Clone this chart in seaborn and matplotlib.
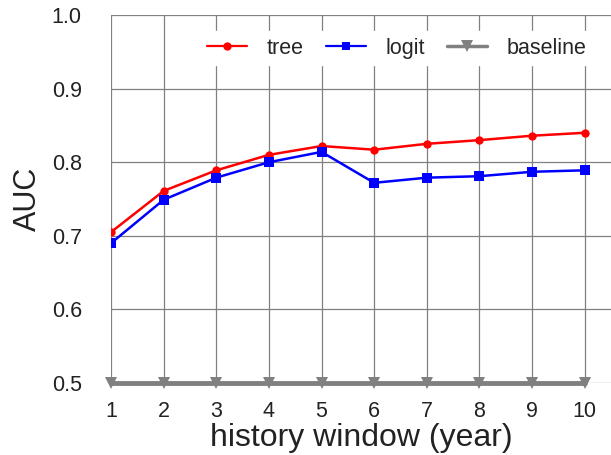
import numpy as np
import pandas as pd
import matplotlib
matplotlib.use("Agg")
import matplotlib.pyplot as plt
import seaborn as sns

# history window (years) and AUC values
years = [1, 2, 3, 4, 5, 6, 7, 8, 9, 10]
tree_auc = [0.705, 0.761, 0.789, 0.810, 0.822, 0.817, 0.825, 0.830, 0.836, 0.840]
logit_auc = [0.690, 0.749, 0.779, 0.800, 0.814, 0.772, 0.779, 0.781, 0.787, 0.789]
baseline_auc = [0.5, 0.5, 0.5, 0.5, 0.5, 0.5, 0.5, 0.5, 0.5, 0.5]

df = pd.DataFrame({'year': years, 'tree': tree_auc, 'logit': logit_auc, 'baseline': baseline_auc})

sns.set_style('white')
plt.rcParams['font.family'] = ['Liberation Sans', 'DejaVu Sans']

fig = plt.figure(figsize=(6.11, 4.55), dpi=100)
ax = fig.add_axes([0.1817, 0.1582, 0.8183, 0.8088])

sns.lineplot(data=df, x='year', y='tree', color='#ff0000', marker='o', markersize=6,
             markeredgewidth=0, linewidth=1.8, label='tree', ax=ax, zorder=4)
sns.lineplot(data=df, x='year', y='logit', color='#0000ff', marker='s', markersize=6.5,
             markeredgewidth=0, linewidth=1.8, label='logit', ax=ax, zorder=4)
sns.lineplot(data=df, x='year', y='baseline', color='#808080', marker='v', markersize=8,
             markeredgewidth=0, linewidth=3.5, label='baseline', ax=ax, zorder=4, clip_on=False)

ax.set_xlim(1, 10.5)
ax.set_ylim(0.5, 1.0)
ax.set_xticks(years)
ax.set_yticks([0.5, 0.6, 0.7, 0.8, 0.9, 1.0])
ax.set_yticklabels(['0.5', '0.6', '0.7', '0.8', '0.9', '1.0'])
ax.grid(True, color='#808080', linewidth=0.9)
for s in ax.spines.values():
    s.set_visible(False)
ax.tick_params(axis='y', length=8, color='#808080', width=0.9, labelsize=15.5, labelcolor='#222222', pad=13)
ax.tick_params(axis='x', length=0, labelsize=15.5, labelcolor='#222222', pad=13)

ax.set_xlabel('history window (year)', fontsize=23, color='#222222', labelpad=1)
ax.set_ylabel('AUC', fontsize=22, color='#222222', labelpad=6)

leg = ax.legend(loc='upper right', ncol=3, fontsize=15.5, frameon=True, framealpha=1,
                edgecolor='white', facecolor='white', bbox_to_anchor=(0.985, 0.985),
                handlelength=1.85, columnspacing=1.05, handletextpad=0.9, borderpad=0.3)
for h in leg.get_lines():
    h.set_linewidth(1.6)
    h.set_markersize(6)
leg.get_lines()[2].set_linewidth(2.5)
leg.get_lines()[2].set_markersize(8)

fig.savefig('out.png', dpi=100)
